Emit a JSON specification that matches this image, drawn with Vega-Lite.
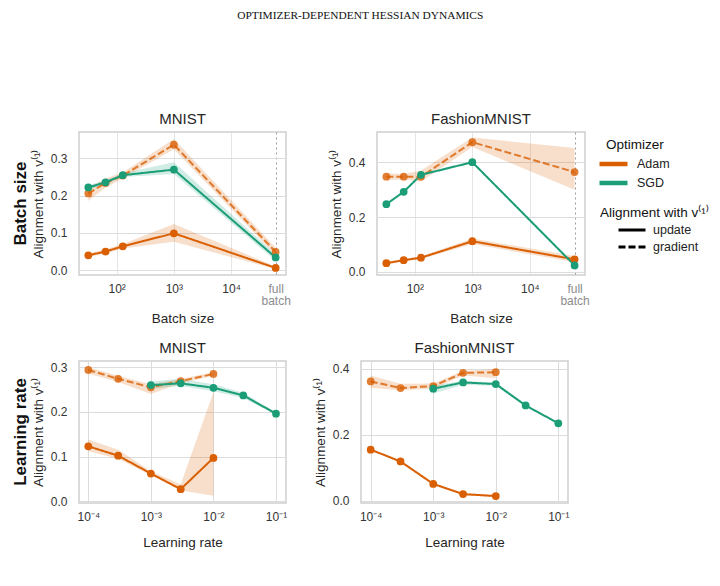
{
  "$schema": "https://vega.github.io/schema/vega-lite/v6.json",
  "padding": {"left": 11, "top": 9, "right": 0, "bottom": 5},
  "background": "white",
  "title": {"text": "OPTIMIZER-DEPENDENT HESSIAN DYNAMICS", "font": "Liberation Serif", "fontSize": 11.4, "fontWeight": "normal", "color": "#111111", "anchor": "middle", "offset": 90, "dx": 0},
  "config": {
    "font": "Liberation Sans",
    "view": {"stroke": "#cfcfcf", "strokeWidth": 1.5},
    "axis": {"domain": false, "ticks": false, "gridColor": "#dcdcdc", "gridWidth": 1, "labelFontSize": 12, "labelColor": "#333333", "titleFontSize": 13.5, "titleFontWeight": "normal", "titleColor": "#262626", "labelPadding": 8, "titlePadding": 5},
    "axisY": {"labelPadding": 12},
    "legend": {"titleFontSize": 13.5, "titleFontWeight": "normal", "titleColor": "#111111", "labelFontSize": 12.5, "labelColor": "#222222", "rowPadding": 0, "titlePadding": 5}
  },
  "data": {"values": [
    {"ds":"MNIST","sw":"bs","opt":"Adam","met":"update","x":32,"y":0.040,"lo":0.035,"hi":0.045},
    {"ds":"MNIST","sw":"bs","opt":"Adam","met":"update","x":64,"y":0.050,"lo":0.045,"hi":0.056},
    {"ds":"MNIST","sw":"bs","opt":"Adam","met":"update","x":128,"y":0.064,"lo":0.058,"hi":0.070},
    {"ds":"MNIST","sw":"bs","opt":"Adam","met":"update","x":1000,"y":0.099,"lo":0.076,"hi":0.124},
    {"ds":"MNIST","sw":"bs","opt":"Adam","met":"update","x":60000,"y":0.006,"lo":0.003,"hi":0.010},
    {"ds":"MNIST","sw":"bs","opt":"Adam","met":"gradient","x":32,"y":0.206,"lo":0.186,"hi":0.222},
    {"ds":"MNIST","sw":"bs","opt":"Adam","met":"gradient","x":64,"y":0.234,"lo":0.222,"hi":0.246},
    {"ds":"MNIST","sw":"bs","opt":"Adam","met":"gradient","x":128,"y":0.254,"lo":0.246,"hi":0.262},
    {"ds":"MNIST","sw":"bs","opt":"Adam","met":"gradient","x":1000,"y":0.337,"lo":0.325,"hi":0.352},
    {"ds":"MNIST","sw":"bs","opt":"Adam","met":"gradient","x":60000,"y":0.049,"lo":0.040,"hi":0.060},
    {"ds":"MNIST","sw":"bs","opt":"SGD","met":"update","x":32,"y":0.222,"lo":0.216,"hi":0.228},
    {"ds":"MNIST","sw":"bs","opt":"SGD","met":"update","x":64,"y":0.236,"lo":0.231,"hi":0.241},
    {"ds":"MNIST","sw":"bs","opt":"SGD","met":"update","x":128,"y":0.255,"lo":0.250,"hi":0.260},
    {"ds":"MNIST","sw":"bs","opt":"SGD","met":"update","x":1000,"y":0.270,"lo":0.258,"hi":0.290},
    {"ds":"MNIST","sw":"bs","opt":"SGD","met":"update","x":60000,"y":0.034,"lo":0.025,"hi":0.043},

    {"ds":"FashionMNIST","sw":"bs","opt":"Adam","met":"update","x":32,"y":0.032,"lo":0.028,"hi":0.036},
    {"ds":"FashionMNIST","sw":"bs","opt":"Adam","met":"update","x":64,"y":0.043,"lo":0.039,"hi":0.047},
    {"ds":"FashionMNIST","sw":"bs","opt":"Adam","met":"update","x":128,"y":0.052,"lo":0.047,"hi":0.057},
    {"ds":"FashionMNIST","sw":"bs","opt":"Adam","met":"update","x":1000,"y":0.112,"lo":0.102,"hi":0.122},
    {"ds":"FashionMNIST","sw":"bs","opt":"Adam","met":"update","x":60000,"y":0.046,"lo":0.035,"hi":0.058},
    {"ds":"FashionMNIST","sw":"bs","opt":"Adam","met":"gradient","x":32,"y":0.347,"lo":0.335,"hi":0.360},
    {"ds":"FashionMNIST","sw":"bs","opt":"Adam","met":"gradient","x":64,"y":0.347,"lo":0.337,"hi":0.357},
    {"ds":"FashionMNIST","sw":"bs","opt":"Adam","met":"gradient","x":128,"y":0.347,"lo":0.330,"hi":0.370},
    {"ds":"FashionMNIST","sw":"bs","opt":"Adam","met":"gradient","x":1000,"y":0.473,"lo":0.455,"hi":0.490},
    {"ds":"FashionMNIST","sw":"bs","opt":"Adam","met":"gradient","x":60000,"y":0.364,"lo":0.300,"hi":0.452},
    {"ds":"FashionMNIST","sw":"bs","opt":"SGD","met":"update","x":32,"y":0.247,"lo":0.243,"hi":0.251},
    {"ds":"FashionMNIST","sw":"bs","opt":"SGD","met":"update","x":64,"y":0.292,"lo":0.288,"hi":0.296},
    {"ds":"FashionMNIST","sw":"bs","opt":"SGD","met":"update","x":128,"y":0.354,"lo":0.350,"hi":0.358},
    {"ds":"FashionMNIST","sw":"bs","opt":"SGD","met":"update","x":1000,"y":0.400,"lo":0.396,"hi":0.404},
    {"ds":"FashionMNIST","sw":"bs","opt":"SGD","met":"update","x":60000,"y":0.024,"lo":0.020,"hi":0.028},

    {"ds":"MNIST","sw":"lr","opt":"Adam","met":"update","x":0.0001,"y":0.123,"lo":0.112,"hi":0.138},
    {"ds":"MNIST","sw":"lr","opt":"Adam","met":"update","x":0.0003,"y":0.102,"lo":0.095,"hi":0.115},
    {"ds":"MNIST","sw":"lr","opt":"Adam","met":"update","x":0.001,"y":0.062,"lo":0.058,"hi":0.067},
    {"ds":"MNIST","sw":"lr","opt":"Adam","met":"update","x":0.003,"y":0.027,"lo":0.024,"hi":0.038},
    {"ds":"MNIST","sw":"lr","opt":"Adam","met":"update","x":0.01,"y":0.097,"lo":0.012,"hi":0.244},
    {"ds":"MNIST","sw":"lr","opt":"Adam","met":"gradient","x":0.0001,"y":0.294,"lo":0.286,"hi":0.300},
    {"ds":"MNIST","sw":"lr","opt":"Adam","met":"gradient","x":0.0003,"y":0.274,"lo":0.267,"hi":0.281},
    {"ds":"MNIST","sw":"lr","opt":"Adam","met":"gradient","x":0.001,"y":0.255,"lo":0.240,"hi":0.262},
    {"ds":"MNIST","sw":"lr","opt":"Adam","met":"gradient","x":0.003,"y":0.269,"lo":0.264,"hi":0.274},
    {"ds":"MNIST","sw":"lr","opt":"Adam","met":"gradient","x":0.01,"y":0.285,"lo":0.281,"hi":0.289},
    {"ds":"MNIST","sw":"lr","opt":"SGD","met":"update","x":0.001,"y":0.260,"lo":0.252,"hi":0.268},
    {"ds":"MNIST","sw":"lr","opt":"SGD","met":"update","x":0.003,"y":0.264,"lo":0.258,"hi":0.274},
    {"ds":"MNIST","sw":"lr","opt":"SGD","met":"update","x":0.01,"y":0.254,"lo":0.246,"hi":0.262},
    {"ds":"MNIST","sw":"lr","opt":"SGD","met":"update","x":0.03,"y":0.237,"lo":0.231,"hi":0.243},
    {"ds":"MNIST","sw":"lr","opt":"SGD","met":"update","x":0.1,"y":0.196,"lo":0.193,"hi":0.199},

    {"ds":"FashionMNIST","sw":"lr","opt":"Adam","met":"update","x":0.0001,"y":0.155,"lo":0.152,"hi":0.158},
    {"ds":"FashionMNIST","sw":"lr","opt":"Adam","met":"update","x":0.0003,"y":0.119,"lo":0.116,"hi":0.122},
    {"ds":"FashionMNIST","sw":"lr","opt":"Adam","met":"update","x":0.001,"y":0.051,"lo":0.048,"hi":0.054},
    {"ds":"FashionMNIST","sw":"lr","opt":"Adam","met":"update","x":0.003,"y":0.020,"lo":0.017,"hi":0.023},
    {"ds":"FashionMNIST","sw":"lr","opt":"Adam","met":"update","x":0.01,"y":0.014,"lo":0.011,"hi":0.017},
    {"ds":"FashionMNIST","sw":"lr","opt":"Adam","met":"gradient","x":0.0001,"y":0.362,"lo":0.343,"hi":0.380},
    {"ds":"FashionMNIST","sw":"lr","opt":"Adam","met":"gradient","x":0.0003,"y":0.342,"lo":0.335,"hi":0.355},
    {"ds":"FashionMNIST","sw":"lr","opt":"Adam","met":"gradient","x":0.001,"y":0.348,"lo":0.340,"hi":0.356},
    {"ds":"FashionMNIST","sw":"lr","opt":"Adam","met":"gradient","x":0.003,"y":0.388,"lo":0.380,"hi":0.394},
    {"ds":"FashionMNIST","sw":"lr","opt":"Adam","met":"gradient","x":0.01,"y":0.390,"lo":0.372,"hi":0.400},
    {"ds":"FashionMNIST","sw":"lr","opt":"SGD","met":"update","x":0.001,"y":0.340,"lo":0.325,"hi":0.350},
    {"ds":"FashionMNIST","sw":"lr","opt":"SGD","met":"update","x":0.003,"y":0.359,"lo":0.352,"hi":0.364},
    {"ds":"FashionMNIST","sw":"lr","opt":"SGD","met":"update","x":0.01,"y":0.354,"lo":0.349,"hi":0.359},
    {"ds":"FashionMNIST","sw":"lr","opt":"SGD","met":"update","x":0.03,"y":0.289,"lo":0.286,"hi":0.292},
    {"ds":"FashionMNIST","sw":"lr","opt":"SGD","met":"update","x":0.1,"y":0.235,"lo":0.232,"hi":0.238}
  ]},
  "spacing": 14,
  "vconcat": [
    {
      "title": {"text": "Batch size", "orient": "left", "fontSize": 17, "fontWeight": "bold", "color": "#111111", "anchor": "middle", "frame": "group", "offset": 1, "dx": -71.5},
      "spacing": 36,
      "hconcat": [
        {
          "width": 207, "height": 143,
          "title": {"text": "MNIST", "fontSize": 15, "fontWeight": "normal", "color": "#262626", "offset": 5},
          "transform": [{"filter": "datum.ds == 'MNIST' && datum.sw == 'bs'"}],
          "encoding": {
            "x": {"field": "x", "type": "quantitative", "title": "Batch size",
              "scale": {"type": "log", "domain": [22, 91000], "nice": false},
              "axis": {"values": [100, 1000, 10000, 60000], "labelOverlap": false, "labelLineHeight": 12,
                "labelExpr": "datum.value == 60000 ? ['full', 'batch'] : datum.value == 100 ? '10²' : datum.value == 1000 ? '10³' : '10⁴'",
                "labelColor": {"condition": {"test": "datum.value == 60000", "value": "#8c8c8c"}, "value": "#333333"},
                "gridDash": {"condition": {"test": "datum.value == 60000", "value": [2, 3]}, "value": [1, 0]},
                "gridColor": {"condition": {"test": "datum.value == 60000", "value": "#9a9a9a"}, "value": "#dcdcdc"}}},
            "color": {"field": "opt", "type": "nominal", "title": "Optimizer", "scale": {"domain": ["Adam", "SGD"], "range": ["#d95f02", "#1b9e77"]},
              "legend": {"symbolType": "M-2.8,0H2.8", "symbolStrokeWidth": 4.5, "symbolSize": 100, "symbolOpacity": 1, "labelOffset": 16, "padding": 6, "offset": 9}}
          },
          "layer": [
            {"mark": {"type": "area", "opacity": 0.2},
             "encoding": {"y": {"field": "lo", "type": "quantitative", "title": "Alignment with v⁽¹⁾", "scale": {"domain": [-0.013, 0.371], "nice": false, "zero": false}, "axis": {"values": [0, 0.1, 0.2, 0.3], "format": ".1f"}}, "y2": {"field": "hi"}, "detail": {"field": "met"}}},
            {"mark": {"type": "line", "strokeWidth": 2},
             "encoding": {"y": {"field": "y", "type": "quantitative", "title": "Alignment with v⁽¹⁾"},
               "strokeDash": {"field": "met", "type": "nominal", "title": "Alignment with v⁽¹⁾", "scale": {"domain": ["update", "gradient"], "range": [[1, 0], [7, 3]]},
                 "legend": {"symbolType": "M2.4,0H7.8", "symbolStrokeColor": "black", "symbolStrokeWidth": 3, "symbolSize": 100, "symbolOpacity": 1, "labelOffset": 40, "padding": 0, "offset": 8, "rowPadding": 4, "titlePadding": 4}},
               "opacity": {"condition": {"test": "datum.met == 'gradient'", "value": 0.8}, "value": 1}}},
            {"mark": {"type": "point", "filled": true, "size": 60},
             "encoding": {"y": {"field": "y", "type": "quantitative", "title": "Alignment with v⁽¹⁾"},
               "opacity": {"condition": {"test": "datum.met == 'gradient'", "value": 0.8}, "value": 1}}}
          ]
        },
        {
          "width": 208, "height": 143,
          "title": {"text": "FashionMNIST", "fontSize": 15, "fontWeight": "normal", "color": "#262626", "offset": 5},
          "transform": [{"filter": "datum.ds == 'FashionMNIST' && datum.sw == 'bs'"}],
          "encoding": {
            "x": {"field": "x", "type": "quantitative", "title": "Batch size",
              "scale": {"type": "log", "domain": [22, 91000], "nice": false},
              "axis": {"values": [100, 1000, 10000, 60000], "labelOverlap": false, "labelLineHeight": 12,
                "labelExpr": "datum.value == 60000 ? ['full', 'batch'] : datum.value == 100 ? '10²' : datum.value == 1000 ? '10³' : '10⁴'",
                "labelColor": {"condition": {"test": "datum.value == 60000", "value": "#8c8c8c"}, "value": "#333333"},
                "gridDash": {"condition": {"test": "datum.value == 60000", "value": [2, 3]}, "value": [1, 0]},
                "gridColor": {"condition": {"test": "datum.value == 60000", "value": "#9a9a9a"}, "value": "#dcdcdc"}}},
            "color": {"field": "opt", "type": "nominal", "title": "Optimizer", "scale": {"domain": ["Adam", "SGD"], "range": ["#d95f02", "#1b9e77"]},
              "legend": {"symbolType": "M-2.8,0H2.8", "symbolStrokeWidth": 4.5, "symbolSize": 100, "symbolOpacity": 1, "labelOffset": 16, "padding": 6, "offset": 9}}
          },
          "layer": [
            {"mark": {"type": "area", "opacity": 0.2},
             "encoding": {"y": {"field": "lo", "type": "quantitative", "title": "Alignment with v⁽¹⁾", "scale": {"domain": [-0.011, 0.51], "nice": false, "zero": false}, "axis": {"values": [0, 0.2, 0.4], "format": ".1f"}}, "y2": {"field": "hi"}, "detail": {"field": "met"}}},
            {"mark": {"type": "line", "strokeWidth": 2},
             "encoding": {"y": {"field": "y", "type": "quantitative", "title": "Alignment with v⁽¹⁾"},
               "strokeDash": {"field": "met", "type": "nominal", "title": "Alignment with v⁽¹⁾", "scale": {"domain": ["update", "gradient"], "range": [[1, 0], [7, 3]]},
                 "legend": {"symbolType": "M2.4,0H7.8", "symbolStrokeColor": "black", "symbolStrokeWidth": 3, "symbolSize": 100, "symbolOpacity": 1, "labelOffset": 40, "padding": 0, "offset": 8, "rowPadding": 4, "titlePadding": 4}},
               "opacity": {"condition": {"test": "datum.met == 'gradient'", "value": 0.8}, "value": 1}}},
            {"mark": {"type": "point", "filled": true, "size": 60},
             "encoding": {"y": {"field": "y", "type": "quantitative", "title": "Alignment with v⁽¹⁾"},
               "opacity": {"condition": {"test": "datum.met == 'gradient'", "value": 0.8}, "value": 1}}}
          ]
        }
      ]
    },
    {
      "title": {"text": "Learning rate", "orient": "left", "fontSize": 17, "fontWeight": "bold", "color": "#111111", "anchor": "middle", "frame": "group", "offset": 1, "dx": -71},
      "spacing": 24,
      "hconcat": [
        {
          "width": 207, "height": 142,
          "title": {"text": "MNIST", "fontSize": 15, "fontWeight": "normal", "color": "#262626", "offset": 5},
          "transform": [{"filter": "datum.ds == 'MNIST' && datum.sw == 'lr'"}],
          "encoding": {
            "x": {"field": "x", "type": "quantitative", "title": "Learning rate",
              "scale": {"type": "log", "domain": [0.000071, 0.1445], "nice": false},
              "axis": {"values": [0.0001, 0.001, 0.01, 0.1], "labelOverlap": false, "titlePadding": 13,
                "labelExpr": "datum.value < 0.0005 ? '10⁻⁴' : datum.value < 0.005 ? '10⁻³' : datum.value < 0.05 ? '10⁻²' : '10⁻¹'"}},
            "color": {"field": "opt", "type": "nominal", "title": "Optimizer", "scale": {"domain": ["Adam", "SGD"], "range": ["#d95f02", "#1b9e77"]},
              "legend": {"symbolType": "M-2.8,0H2.8", "symbolStrokeWidth": 4.5, "symbolSize": 100, "symbolOpacity": 1, "labelOffset": 16, "padding": 6, "offset": 9}}
          },
          "layer": [
            {"mark": {"type": "area", "opacity": 0.2},
             "encoding": {"y": {"field": "lo", "type": "quantitative", "title": "Alignment with v⁽¹⁾", "scale": {"domain": [-0.004, 0.314], "nice": false, "zero": false}, "axis": {"values": [0, 0.1, 0.2, 0.3], "format": ".1f"}}, "y2": {"field": "hi"}, "detail": {"field": "met"}}},
            {"mark": {"type": "line", "strokeWidth": 2},
             "encoding": {"y": {"field": "y", "type": "quantitative", "title": "Alignment with v⁽¹⁾"},
               "strokeDash": {"field": "met", "type": "nominal", "title": "Alignment with v⁽¹⁾", "scale": {"domain": ["update", "gradient"], "range": [[1, 0], [7, 3]]},
                 "legend": {"symbolType": "M2.4,0H7.8", "symbolStrokeColor": "black", "symbolStrokeWidth": 3, "symbolSize": 100, "symbolOpacity": 1, "labelOffset": 40, "padding": 0, "offset": 8, "rowPadding": 4, "titlePadding": 4}},
               "opacity": {"condition": {"test": "datum.met == 'gradient'", "value": 0.8}, "value": 1}}},
            {"mark": {"type": "point", "filled": true, "size": 60},
             "encoding": {"y": {"field": "y", "type": "quantitative", "title": "Alignment with v⁽¹⁾"},
               "opacity": {"condition": {"test": "datum.met == 'gradient'", "value": 0.8}, "value": 1}}}
          ]
        },
        {
          "width": 207, "height": 142,
          "title": {"text": "FashionMNIST", "fontSize": 15, "fontWeight": "normal", "color": "#262626", "offset": 5},
          "transform": [{"filter": "datum.ds == 'FashionMNIST' && datum.sw == 'lr'"}],
          "encoding": {
            "x": {"field": "x", "type": "quantitative", "title": "Learning rate",
              "scale": {"type": "log", "domain": [0.00007, 0.1428], "nice": false},
              "axis": {"values": [0.0001, 0.001, 0.01, 0.1], "labelOverlap": false, "titlePadding": 13,
                "labelExpr": "datum.value < 0.0005 ? '10⁻⁴' : datum.value < 0.005 ? '10⁻³' : datum.value < 0.05 ? '10⁻²' : '10⁻¹'"}},
            "color": {"field": "opt", "type": "nominal", "title": "Optimizer", "scale": {"domain": ["Adam", "SGD"], "range": ["#d95f02", "#1b9e77"]},
              "legend": {"symbolType": "M-2.8,0H2.8", "symbolStrokeWidth": 4.5, "symbolSize": 100, "symbolOpacity": 1, "labelOffset": 16, "padding": 6, "offset": 9}}
          },
          "layer": [
            {"mark": {"type": "area", "opacity": 0.2},
             "encoding": {"y": {"field": "lo", "type": "quantitative", "title": "Alignment with v⁽¹⁾", "scale": {"domain": [-0.007, 0.424], "nice": false, "zero": false}, "axis": {"values": [0, 0.1, 0.2, 0.3, 0.4], "format": ".1f"}}, "y2": {"field": "hi"}, "detail": {"field": "met"}}},
            {"mark": {"type": "line", "strokeWidth": 2},
             "encoding": {"y": {"field": "y", "type": "quantitative", "title": "Alignment with v⁽¹⁾"},
               "strokeDash": {"field": "met", "type": "nominal", "title": "Alignment with v⁽¹⁾", "scale": {"domain": ["update", "gradient"], "range": [[1, 0], [7, 3]]},
                 "legend": {"symbolType": "M2.4,0H7.8", "symbolStrokeColor": "black", "symbolStrokeWidth": 3, "symbolSize": 100, "symbolOpacity": 1, "labelOffset": 40, "padding": 0, "offset": 8, "rowPadding": 4, "titlePadding": 4}},
               "opacity": {"condition": {"test": "datum.met == 'gradient'", "value": 0.8}, "value": 1}}},
            {"mark": {"type": "point", "filled": true, "size": 60},
             "encoding": {"y": {"field": "y", "type": "quantitative", "title": "Alignment with v⁽¹⁾"},
               "opacity": {"condition": {"test": "datum.met == 'gradient'", "value": 0.8}, "value": 1}}}
          ]
        }
      ]
    }
  ]
}
